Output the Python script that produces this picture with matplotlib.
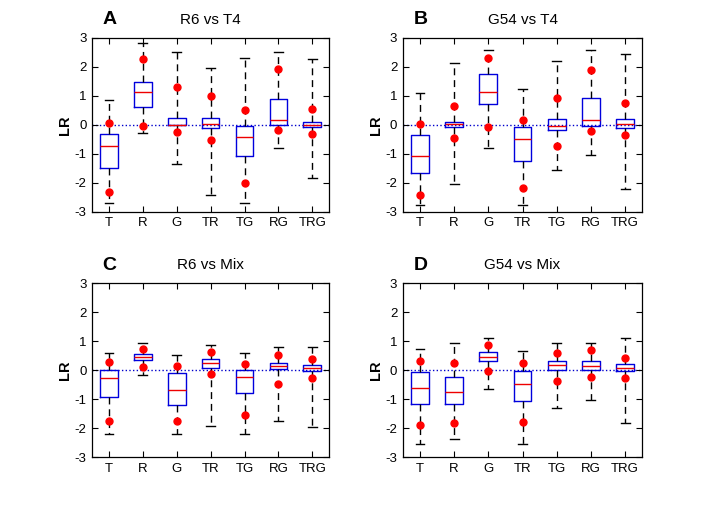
import matplotlib
matplotlib.use("Agg")
import matplotlib.pyplot as plt

plt.rcParams['font.family'] = ['Liberation Sans', 'DejaVu Sans']
plt.rcParams['axes.unicode_minus'] = False

labels = ['T', 'R', 'G', 'TR', 'TG', 'RG', 'TRG']
titles = ['R6 vs T4', 'G54 vs T4', 'R6 vs Mix', 'G54 vs Mix']
letters = ['A', 'B', 'C', 'D']

# panel A: R6 vs T4
a_lo = [-2.68, -0.28, -1.34, -2.41, -2.68, -0.79, -1.83]
a_q1 = [-1.48, 0.62, -0.01, -0.10, -1.06, 0.00, -0.07]
a_med = [-0.72, 1.14, 0.00, 0.03, -0.41, 0.17, 0.00]
a_q3 = [-0.31, 1.48, 0.24, 0.24, -0.03, 0.90, 0.10]
a_hi = [0.86, 2.83, 2.51, 1.97, 2.30, 2.51, 2.26]
a_dhi = [0.05, 2.28, 1.31, 1.00, 0.52, 1.93, 0.55]
a_dlo = [-2.33, -0.03, -0.26, -0.52, -2.02, -0.17, -0.30]

# panel B: G54 vs T4
b_lo = [-2.76, -2.05, -0.79, -2.75, -1.56, -1.03, -2.21]
b_q1 = [-1.66, -0.07, 0.72, -1.25, -0.17, -0.03, -0.10]
b_med = [-1.07, 0.02, 1.13, -0.47, -0.03, 0.17, 0.03]
b_q3 = [-0.34, 0.10, 1.76, -0.07, 0.21, 0.93, 0.21]
b_hi = [1.09, 2.13, 2.59, 1.23, 2.20, 2.59, 2.44]
b_dhi = [0.04, 0.66, 2.31, 0.17, 0.93, 1.90, 0.76]
b_dlo = [-2.41, -0.45, -0.07, -2.17, -0.72, -0.21, -0.34]

# panel C: R6 vs Mix
c_lo = [-2.20, -0.17, -2.20, -1.93, -2.20, -1.75, -1.97]
c_q1 = [-0.93, 0.34, -1.22, 0.07, -0.80, 0.03, -0.03]
c_med = [-0.28, 0.45, -0.67, 0.23, -0.25, 0.14, 0.07]
c_q3 = [0.02, 0.55, -0.10, 0.37, 0.00, 0.26, 0.17]
c_hi = [0.59, 0.93, 0.52, 0.86, 0.59, 0.79, 0.79]
c_dhi = [0.28, 0.72, 0.14, 0.62, 0.20, 0.51, 0.37]
c_dlo = [-1.75, 0.10, -1.75, -0.14, -1.55, -0.48, -0.28]

# panel D: G54 vs Mix
d_lo = [-2.55, -2.38, -0.66, -2.55, -1.30, -1.03, -1.83]
d_q1 = [-1.17, -1.17, 0.30, -1.08, 0.00, 0.00, -0.03]
d_med = [-0.62, -0.75, 0.45, -0.48, 0.17, 0.14, 0.08]
d_q3 = [-0.07, -0.25, 0.62, -0.03, 0.33, 0.33, 0.20]
d_hi = [0.72, 0.93, 1.10, 0.66, 0.93, 0.93, 1.10]
d_dhi = [0.30, 0.23, 0.86, 0.23, 0.59, 0.69, 0.43]
d_dlo = [-1.90, -1.83, -0.03, -1.79, -0.38, -0.25, -0.28]

panels = [
    (a_lo, a_q1, a_med, a_q3, a_hi, a_dhi, a_dlo),
    (b_lo, b_q1, b_med, b_q3, b_hi, b_dhi, b_dlo),
    (c_lo, c_q1, c_med, c_q3, c_hi, c_dhi, c_dlo),
    (d_lo, d_q1, d_med, d_q3, d_hi, d_dhi, d_dlo),
]

# axes rectangles in figure fractions [left, bottom, width, height]
rects = [
    [0.130, 0.587, 0.335, 0.339],
    [0.569, 0.587, 0.338, 0.339],
    [0.130, 0.109, 0.335, 0.339],
    [0.569, 0.109, 0.338, 0.339],
]

fig = plt.figure(figsize=(7.08, 5.13), dpi=100)

for i, (lo, q1, med, q3, hi, dhi, dlo) in enumerate(panels):
    ax = fig.add_axes(rects[i])
    stats = []
    for j in range(len(labels)):
        stats.append({'whislo': lo[j], 'q1': q1[j], 'med': med[j],
                      'q3': q3[j], 'whishi': hi[j], 'fliers': [],
                      'label': labels[j]})
    pos = list(range(1, len(labels) + 1))
    ax.axhline(0, color='#0000cc', linestyle=':', linewidth=1.0, zorder=1)
    ax.bxp(stats, positions=pos, widths=0.52, showfliers=False,
           boxprops=dict(color='#0000dd', linewidth=1.0),
           medianprops=dict(color='#ee0000', linewidth=1.0),
           whiskerprops=dict(color='black', linewidth=1.0,
                             linestyle=(0, (5, 3.5))),
           capprops=dict(color='black', linewidth=1.0),
           capwidths=0.26)
    ax.plot(pos, dhi, 'o', color='#ff0000', markersize=5, zorder=5)
    ax.plot(pos, dlo, 'o', color='#ff0000', markersize=5, zorder=5)

    ax.set_xlim(0.5, 7.5)
    ax.set_ylim(-3, 3)
    ax.set_yticks([-3, -2, -1, 0, 1, 2, 3])
    ax.set_xticks(pos)
    ax.set_xticklabels(labels)
    ax.tick_params(direction='in', length=4, width=0.8, labelsize=9.5,
                   top=True, right=True, pad=4)
    for s in ax.spines.values():
        s.set_linewidth(0.9)
    ax.set_ylabel('LR', fontsize=10.5, fontweight='bold', labelpad=2)
    ax.text(0.5, 1.065, titles[i], transform=ax.transAxes, ha='center',
            va='bottom', fontsize=11)
    ax.text(0.045, 1.055, letters[i], transform=ax.transAxes, ha='left',
            va='bottom', fontsize=14, fontweight='bold')

fig.savefig('out.png', dpi=100)
